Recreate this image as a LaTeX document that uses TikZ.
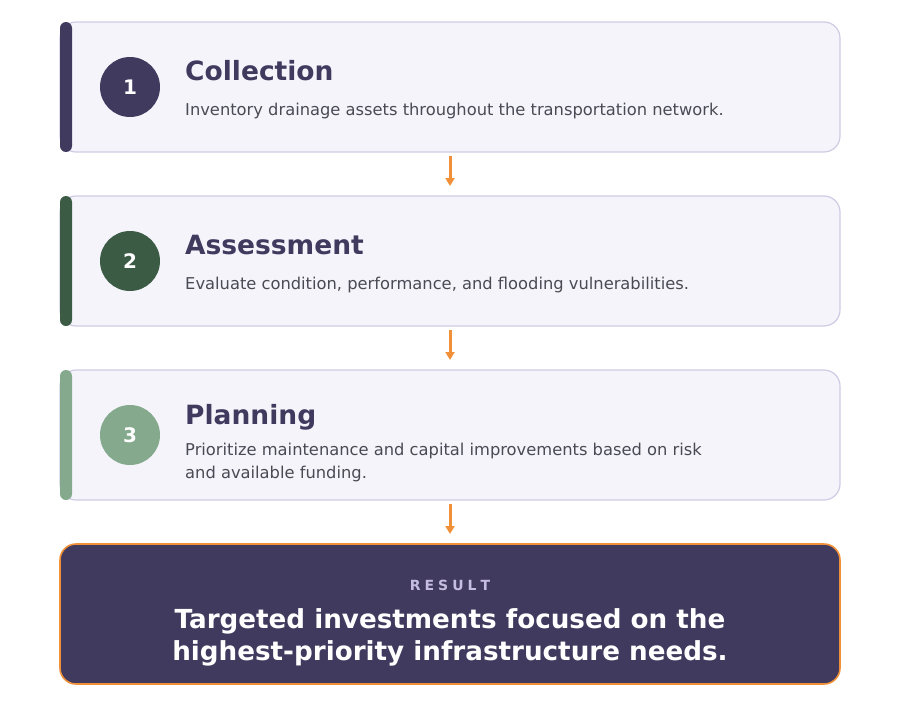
\documentclass[tikz,border=0pt]{standalone}
\usepackage{fontspec}
\setmainfont{DejaVu Sans}
\usetikzlibrary{positioning, arrows.meta}
\definecolor{deeppurple}{HTML}{413A5F}
\definecolor{cardfill}{HTML}{F5F4FA}
\definecolor{cardline}{HTML}{CFCBE3}
\definecolor{darkgreen}{HTML}{3B5B45}
\definecolor{sagegreen}{HTML}{84A98C}
\definecolor{flow}{HTML}{F0913A}
\definecolor{descgray}{HTML}{4A4A55}
\definecolor{taglilac}{HTML}{C5BEE0}
\newcommand{\tracked}[1]{R\hspace{4pt}E\hspace{4pt}S\hspace{4pt}U\hspace{4pt}L\hspace{4pt}T}

\begin{document}
\begin{tikzpicture}[
    x=1pt, y=-1pt,
    card/.style={rectangle, draw=cardline, fill=cardfill, line width=1.2pt, rounded corners=16pt, minimum width=780pt, minimum height=130pt, inner sep=0pt, outer sep=0pt},
    outcome/.style={rectangle, draw=flow, fill=deeppurple, line width=1.6pt, rounded corners=16pt, minimum width=780pt, minimum height=140pt, inner sep=0pt, outer sep=0pt},
    badge/.style={circle, minimum size=60pt, inner sep=0pt, text=white, font=\fontsize{20}{24}\selectfont\bfseries},
    title/.style={anchor=base west, inner sep=0pt, text=deeppurple, font=\fontsize{26.5}{30}\selectfont\bfseries},
    desc/.style={anchor=base west, inner sep=0pt, text=descgray, align=left, font=\fontsize{16.3}{23}\selectfont},
    tag/.style={anchor=base, inner sep=0pt, text=taglilac, font=\fontsize{14}{16}\selectfont\bfseries},
    verdict/.style={anchor=base, inner sep=0pt, text=white, align=center, font=\fontsize{26.2}{32}\selectfont\bfseries},
    arrow/.style={-{Triangle[length=8pt, width=9pt]}, draw=flow, line width=3pt, shorten <=4pt, shorten >=10pt},
    node distance=44pt
]
\useasboundingbox (0,0) rectangle (900,712);

% cards
\node[card] (collect) at (450,87) {};
\node[card, below=of collect] (assess) {};
\node[card, below=of assess] (plan) {};
\node[outcome, below=of plan] (result) {};

% accent bars
\fill[deeppurple, rounded corners=6pt] (collect.north west) rectangle ([xshift=12pt]collect.south west);
\fill[darkgreen, rounded corners=6pt] (assess.north west) rectangle ([xshift=12pt]assess.south west);
\fill[sagegreen, rounded corners=6pt] (plan.north west) rectangle ([xshift=12pt]plan.south west);

% badges
\node[badge, fill=deeppurple] (n1) at ([xshift=70pt]collect.west) {1};
\node[badge, fill=darkgreen] (n2) at ([xshift=70pt]assess.west) {2};
\node[badge, fill=sagegreen] (n3) at ([xshift=70pt]plan.west) {3};

% texts
\node[title] (t1) at ([xshift=125pt, yshift=7pt]collect.west) {Collection};
\node[desc] (d1) at ([xshift=125pt, yshift=-28pt]collect.west) {Inventory drainage assets throughout the transportation network.};
\node[title] (t2) at ([xshift=125pt, yshift=7pt]assess.west) {Assessment};
\node[desc] (d2) at ([xshift=125pt, yshift=-28pt]assess.west) {Evaluate condition, performance, and flooding vulnerabilities.};
\node[title] (t3) at ([xshift=125pt, yshift=11pt]plan.west) {Planning};
\node[desc] (d3) at ([xshift=125pt, yshift=-43pt]plan.west) {Prioritize maintenance and capital improvements based on risk\\and available funding.};

\node[tag] (label) at ([yshift=24pt]result.center) {\tracked{}};
\node[verdict] (summary) at ([yshift=-46pt]result.center) {Targeted investments focused on the\\highest-priority infrastructure needs.};

% arrows
\draw[arrow] (collect) -- (assess);
\draw[arrow] (assess) -- (plan);
\draw[arrow] (plan) -- (result);

\end{tikzpicture}
\end{document}
